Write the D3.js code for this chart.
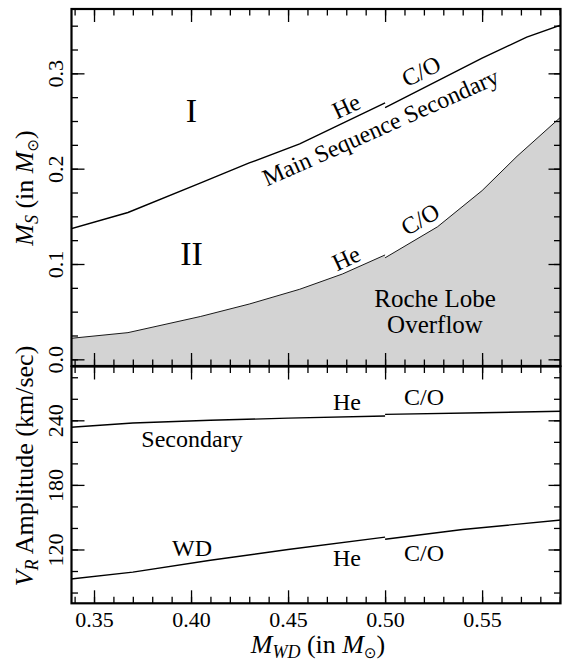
<!DOCTYPE html>
<html>
<head>
<meta charset="utf-8">
<script src="https://cdn.jsdelivr.net/npm/d3@7"></script>
</head>
<body style="margin:0">
<script>
// white dwarf mass (x) for every curve segment
const msHeM = [0.338, 0.3675, 0.405, 0.43, 0.456, 0.50];
const msHe  = [0.137, 0.154, 0.185, 0.206, 0.226, 0.269];
const msCoM = [0.50, 0.55, 0.573, 0.591];
const msCo  = [0.264, 0.316, 0.338, 0.351];

const rlHeM = [0.338, 0.3675, 0.405, 0.43, 0.456, 0.478, 0.50];
const rlHe  = [0.022, 0.028, 0.045, 0.058, 0.0735, 0.0895, 0.1095];
const rlCoM = [0.50, 0.527, 0.55, 0.568, 0.591];
const rlCo  = [0.1065, 0.139, 0.177, 0.213, 0.255];

const vsHeM = [0.338, 0.37, 0.41, 0.45, 0.50];
const vsHe  = [233.5, 237.5, 240, 242, 244];
const vsCoM = [0.50, 0.55, 0.591];
const vsCo  = [245.5, 247, 248.5];

const vwHeM = [0.338, 0.37, 0.41, 0.45, 0.50];
const vwHe  = [92.5, 99, 110, 120, 131.5];
const vwCoM = [0.50, 0.54, 0.591];
const vwCo  = [129.5, 138.5, 147.5];

const xMajor = [0.35, 0.40, 0.45, 0.50, 0.55];
const xMinor = d3.range(34, 60).map(d => d / 100);
const yTopMajor = [0.0, 0.1, 0.2, 0.3];
const yTopMinor = d3.range(0, 15).map(d => d * 0.025);
const yBotMajor = [120, 180, 240];
const yBotMinor = d3.range(80, 290, 20);

const W = 563, H = 663;
const L = 71.5, R = 560.5;
const FONT = "'Times New Roman', 'Liberation Serif', serif";

const svg = d3.select("body").append("svg")
  .attr("width", W).attr("height", H)
  .style("font-family", FONT);

const x = d3.scaleLinear().domain([0.3384, 0.5904]).range([L, R]);
const yTop = d3.scaleLinear().domain([-0.007, 0.3675]).range([366, 9]);
const yBot = d3.scaleLinear().domain([70, 290]).range([603.3, 366.5]);

const pairs = (xs, ys) => xs.map((d, i) => [d, ys[i]]);

function panel(id, y) {
  const g = svg.append("g");
  const [y0, y1] = y.range();
  g.append("clipPath").attr("id", id)
    .append("rect").attr("x", L).attr("y", y1).attr("width", R - L).attr("height", y0 - y1);
  const body = g.append("g").attr("clip-path", `url(#${id})`);
  return {g, body};
}

function ticks(g, y, major, minor, fmt, showX) {
  const [y0, y1] = y.range();
  const none = () => "";
  const add = (axis, tr) => {
    const a = g.append("g").attr("transform", tr).call(axis);
    a.attr("font-family", null).attr("font-size", null);
    a.select(".domain").remove();
    a.selectAll(".tick line").attr("stroke-width", 1.3);
    a.selectAll(".tick text").style("font-family", FONT).style("font-size", "22px");
    return a;
  };
  // bottom / top
  add(d3.axisBottom(x).tickValues(xMinor).tickSizeInner(-6.5).tickSizeOuter(0).tickFormat(none), `translate(0,${y0})`);
  add(d3.axisBottom(x).tickValues(xMajor).tickSizeInner(-13).tickSizeOuter(0).tickPadding(8)
    .tickFormat(showX ? d3.format(".2f") : none), `translate(0,${y0})`);
  add(d3.axisTop(x).tickValues(xMinor).tickSizeInner(-6.5).tickSizeOuter(0).tickFormat(none), `translate(0,${y1})`);
  add(d3.axisTop(x).tickValues(xMajor).tickSizeInner(-13).tickSizeOuter(0).tickFormat(none), `translate(0,${y1})`);
  // left / right
  add(d3.axisLeft(y).tickValues(minor).tickSizeInner(-6.5).tickSizeOuter(0).tickFormat(none), `translate(${L},0)`);
  const yl = add(d3.axisLeft(y).tickValues(major).tickSizeInner(-13).tickSizeOuter(0).tickFormat(fmt), `translate(${L},0)`);
  yl.selectAll("text")
    .attr("transform", "rotate(-90)")
    .attr("text-anchor", "middle")
    .attr("x", 0).attr("y", -9).attr("dy", 0);
  add(d3.axisRight(y).tickValues(minor).tickSizeInner(-6.5).tickSizeOuter(0).tickFormat(none), `translate(${R},0)`);
  add(d3.axisRight(y).tickValues(major).tickSizeInner(-12).tickSizeOuter(0).tickFormat(none), `translate(${R},0)`);
  // frame
  g.append("rect").attr("x", L).attr("y", y1).attr("width", R - L).attr("height", y0 - y1)
    .attr("fill", "none").attr("stroke", "#000").attr("stroke-width", 2.2);
}

const line = y => d3.line().x(d => x(d[0])).y(d => y(d[1]));

// ---- top panel: secondary mass
const topP = panel("clipTop", yTop);
const roche = pairs(rlHeM, rlHe).concat(pairs(rlCoM, rlCo));
topP.body.append("path")
  .datum(roche)
  .attr("d", d3.area().x(d => x(d[0])).y0(yTop(-0.007)).y1(d => yTop(d[1])))
  .attr("fill", "#d3d3d3");
[pairs(rlHeM, rlHe), pairs(rlCoM, rlCo)].forEach(seg =>
  topP.body.append("path").datum(seg).attr("d", line(yTop))
    .attr("fill", "none").attr("stroke", "#000").attr("stroke-width", 0.9));
[pairs(msHeM, msHe), pairs(msCoM, msCo)].forEach(seg =>
  topP.body.append("path").datum(seg).attr("d", line(yTop))
    .attr("fill", "none").attr("stroke", "#000").attr("stroke-width", 1.4));
ticks(topP.g, yTop, yTopMajor, yTopMinor, d3.format(".1f"), false);

// ---- bottom panel: radial velocity amplitude
const botP = panel("clipBot", yBot);
[pairs(vsHeM, vsHe), pairs(vsCoM, vsCo), pairs(vwHeM, vwHe), pairs(vwCoM, vwCo)].forEach(seg =>
  botP.body.append("path").datum(seg).attr("d", line(yBot))
    .attr("fill", "none").attr("stroke", "#000").attr("stroke-width", 1.4));
ticks(botP.g, yBot, yBotMajor, yBotMinor, d3.format("d"), true);

// ---- annotations
function label(t, px, py, rot, size) {
  return svg.append("text")
    .attr("transform", `translate(${px},${py}) rotate(${rot || 0})`)
    .attr("text-anchor", "middle")
    .style("font-family", FONT)
    .style("font-size", (size || 24) + "px")
    .text(t);
}
label("I", 191.5, 122, 0, 34);
label("II", 191.5, 265, 0, 34);
label("He", 346, 106, -25).attr("dy", "0.35em");
label("C/O", 421, 71, -27).attr("dy", "0.35em");
label("Main Sequence Secondary", 381, 128, -24).attr("dy", "0.3em");
label("He", 346, 258, -25).attr("dy", "0.35em");
label("C/O", 420, 219, -30).attr("dy", "0.35em");
label("Roche Lobe", 435, 307, 0, 25);
label("Overflow", 435, 333, 0, 25);

label("He", 347, 410);
label("C/O", 424, 405);
label("Secondary", 192, 447);
label("WD", 192, 556);
label("He", 347, 566);
label("C/O", 424, 561);

// ---- axis titles with math
function mathLabel(parts, px, py, rot) {
  const t = svg.append("text")
    .attr("transform", `translate(${px},${py}) rotate(${rot})`)
    .attr("text-anchor", "middle")
    .style("font-family", FONT)
    .style("font-size", "26px");
  parts.forEach(p => {
    const s = t.append("tspan").text(p.t);
    if (p.i) s.style("font-style", "italic");
    if (p.sub) s.style("font-size", "18px").attr("dy", 5);
    if (p.up) s.attr("dy", -5);
    if (p.sym) s.style("font-family", "DejaVu Sans").style("font-size", "15px").attr("dy", 5);
  });
  return t;
}
mathLabel([
  {t: "M", i: true}, {t: "WD", i: true, sub: true},
  {t: " (in ", up: true}, {t: "M", i: true}, {t: "⊙", sym: true}, {t: ")", up: true}
], 318, 653, 0);
mathLabel([
  {t: "M", i: true}, {t: "S", i: true, sub: true},
  {t: " (in ", up: true}, {t: "M", i: true}, {t: "⊙", sym: true}, {t: ")", up: true}
], 33, 188, -90);
mathLabel([
  {t: "V", i: true}, {t: "R", i: true, sub: true},
  {t: " Amplitude (km/sec)", up: true}
], 33, 466, -90);
</script>
</body>
</html>
